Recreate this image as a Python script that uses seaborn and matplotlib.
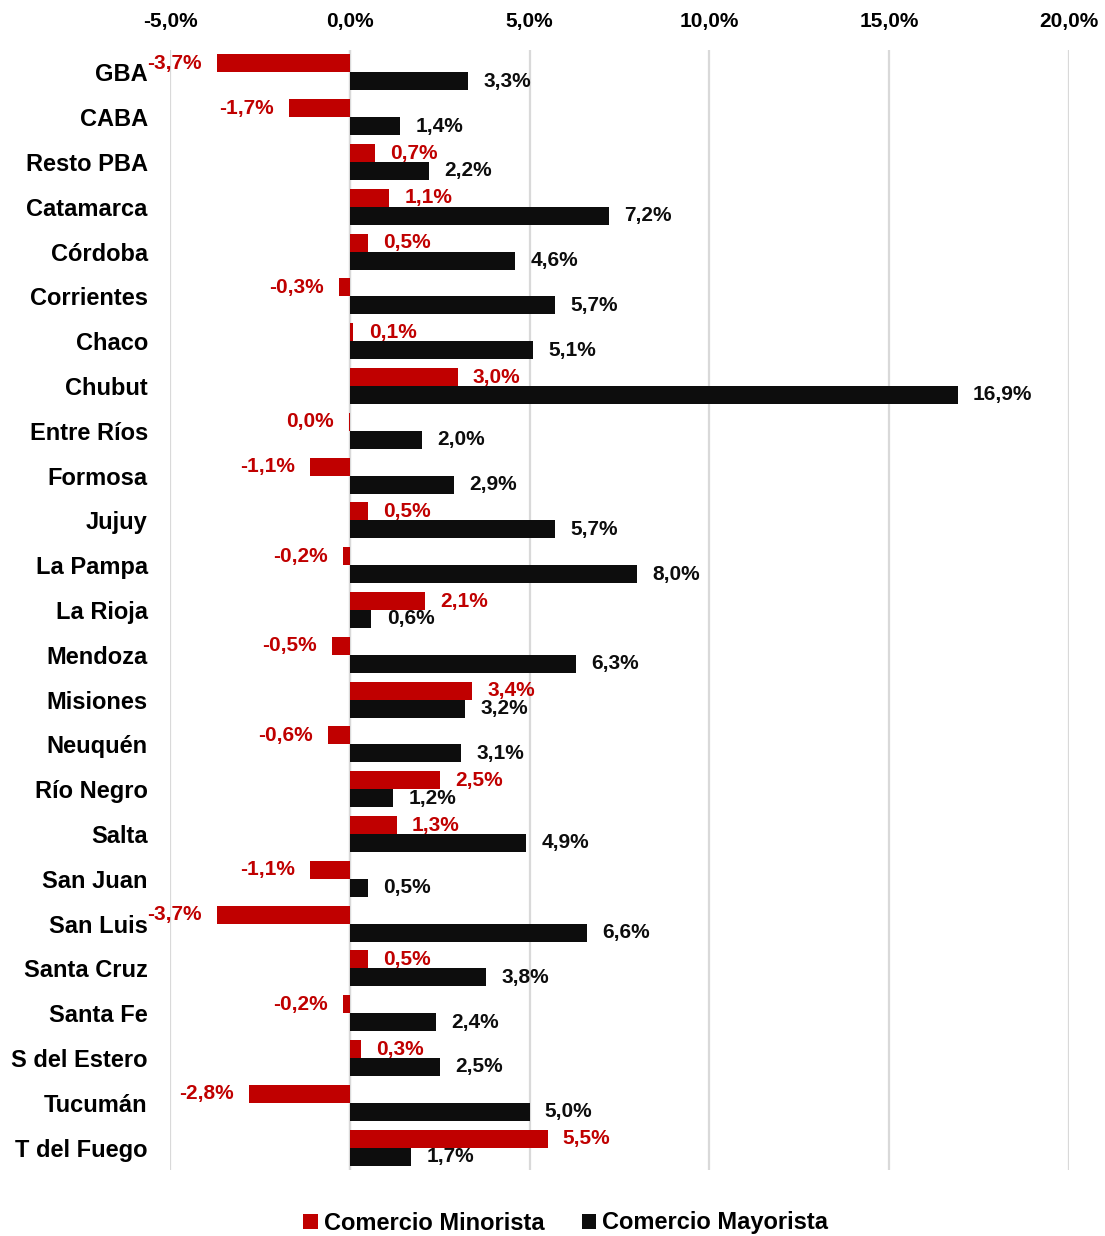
import matplotlib.pyplot as plt
import pandas as pd
import seaborn as sns
from matplotlib.patches import Patch

# 数据
provincias = ["GBA", "CABA", "Resto PBA", "Catamarca", "Córdoba", "Corrientes", "Chaco",
              "Chubut", "Entre Ríos", "Formosa", "Jujuy", "La Pampa", "La Rioja", "Mendoza",
              "Misiones", "Neuquén", "Río Negro", "Salta", "San Juan", "San Luis",
              "Santa Cruz", "Santa Fe", "S del Estero", "Tucumán", "T del Fuego"]
minorista = [-3.7, -1.7, 0.7, 1.1, 0.5, -0.3, 0.1, 3.0, -0.02, -1.1, 0.5, -0.2, 2.1, -0.5,
             3.4, -0.6, 2.5, 1.3, -1.1, -3.7, 0.5, -0.2, 0.3, -2.8, 5.5]
mayorista = [3.3, 1.4, 2.2, 7.2, 4.6, 5.7, 5.1, 16.9, 2.0, 2.9, 5.7, 8.0, 0.6, 6.3,
             3.2, 3.1, 1.2, 4.9, 0.5, 6.6, 3.8, 2.4, 2.5, 5.0, 1.7]
series = ["Comercio Minorista", "Comercio Mayorista"]
colores = ["#C00000", "#0D0D0D"]
xticks = [-5, 0, 5, 10, 15, 20]

df = pd.DataFrame({
    "provincia": provincias * 2,
    "serie": [series[0]] * len(provincias) + [series[1]] * len(provincias),
    "valor": minorista + mayorista,
})


def fmt(v):
    r = round(v, 1)
    if r == 0:
        r = 0.0
    return f"{r:.1f}%".replace(".", ",")


sns.set_style("white")
plt.rcParams["font.family"] = ["Liberation Sans", "DejaVu Sans"]
plt.rcParams["font.weight"] = "bold"
plt.rcParams["text.color"] = "black"
plt.rcParams["xtick.color"] = "black"
plt.rcParams["ytick.color"] = "black"

fig = plt.figure(figsize=(11.05, 12.36), dpi=100)
ax = fig.add_axes([170 / 1105, 1 - 1170 / 1236, (1069 - 170) / 1105, 1120 / 1236])

sns.barplot(data=df, y="provincia", x="valor", hue="serie", hue_order=series,
            palette=colores, saturation=1, errorbar=None, width=0.8,
            orient="h", linewidth=0, ax=ax, legend=False, zorder=3)

# 数据标签
for cont, vals, col in zip(ax.containers, [minorista, mayorista], colores):
    ax.bar_label(cont, labels=[fmt(v) for v in vals], padding=11, color=col,
                 fontsize=15, fontweight="bold")

ax.set_xlim(-5, 20)
ax.set_ylim(len(provincias) - 0.5, -0.5)
ax.set_xticks(xticks)
ax.set_xticklabels([f"{t:.1f}%".replace(".", ",") for t in xticks], fontsize=15, fontweight="bold")
ax.xaxis.tick_top()
ax.tick_params(axis="x", length=0, pad=13.5, labelcolor="black")
ax.tick_params(axis="y", length=0, pad=16, labelsize=17, labelcolor="black")
for lab in ax.get_yticklabels():
    lab.set_fontweight("bold")
ax.set_xlabel("")
ax.set_ylabel("")
for s in ax.spines.values():
    s.set_visible(False)
ax.grid(axis="x", color="#D9D9D9", linewidth=1.6, zorder=0)
ax.axvline(0, color="#D9D9D9", linewidth=1.6, zorder=1)

handles = [Patch(facecolor=c, edgecolor="none") for c in colores]
fig.legend(handles, series, loc="center", bbox_to_anchor=(0.512, 1 - 1223 / 1236),
           ncol=2, frameon=False, handlelength=0.6, handleheight=0.6,
           handletextpad=0.25, columnspacing=1.6, labelcolor="black",
           prop={"weight": "bold", "size": 17})

fig.savefig("out.png", dpi=100)
plt.close()
